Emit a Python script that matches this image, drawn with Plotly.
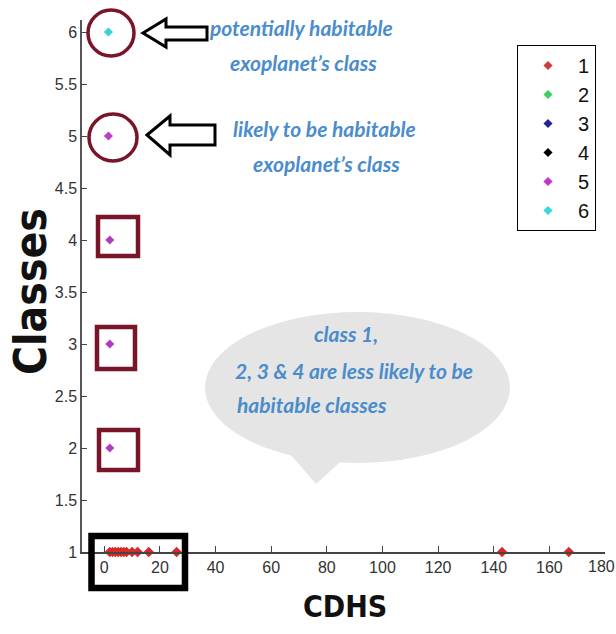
import plotly.graph_objects as go

# ---- data ----
class_names = ["1", "2", "3", "4", "5", "6"]
class_levels = [1, 2, 3, 4, 5, 6]
cdhs_class1 = [2, 3, 4, 5, 6, 7, 8, 10, 12, 16, 26, 143, 167]
cdhs_class2 = [2]
cdhs_class3 = [2]
cdhs_class4 = [2]
cdhs_class5 = [1.5]
cdhs_class6 = [1.5]
legend_colors = ["#d03a3a", "#3ad060", "#22229a", "#000000", "#c633c6", "#33d8d8"]
point_colors = ["#d82828", "#b03cc0", "#b03cc0", "#b03cc0", "#c33cc8", "#33d2d8"]
x_ticks = [0, 20, 40, 60, 80, 100, 120, 140, 160, 180]
y_ticks = [1, 1.5, 2, 2.5, 3, 3.5, 4, 4.5, 5, 5.5, 6]

W, H = 616, 634
L, R, T, B = 82, 11, 20, 82
PW, PH = W - L - R, H - T - B


def px(x):
    return (x - L) / PW


def py(y):
    return (H - B - y) / PH


series = [cdhs_class1, cdhs_class2, cdhs_class3, cdhs_class4, cdhs_class5, cdhs_class6]

fig = go.Figure()
for i, xs in enumerate(series):
    fig.add_trace(go.Scatter(
        x=xs, y=[class_levels[i]] * len(xs), mode="markers",
        marker=dict(symbol="diamond", size=8 if i == 0 else 7, color=point_colors[i]),
        showlegend=False, cliponaxis=False, hoverinfo="x+y"))
for i, name in enumerate(class_names):
    fig.add_trace(go.Scatter(
        x=[None], y=[None], mode="markers", name=name,
        marker=dict(symbol="diamond", size=7, color=legend_colors[i])))

shapes = []
dark_red = "#7a1428"
# circles around class 6 and 5
shapes.append(dict(type="circle", xref="paper", yref="paper",
                   x0=px(88), x1=px(134), y0=py(56), y1=py(10),
                   line=dict(color=dark_red, width=3.5)))
shapes.append(dict(type="circle", xref="paper", yref="paper",
                   x0=px(89), x1=px(137), y0=py(161), y1=py(114),
                   line=dict(color=dark_red, width=3.5)))
# squares around classes 4, 3, 2
for (x0, y0, x1, y1) in [(98, 217, 138, 256), (97, 327, 135, 369), (99, 430, 138, 470)]:
    shapes.append(dict(type="rect", xref="paper", yref="paper",
                       x0=px(x0), x1=px(x1), y0=py(y1), y1=py(y0),
                       line=dict(color=dark_red, width=4.5)))
# black box around class 1 cluster
shapes.append(dict(type="rect", xref="paper", yref="paper",
                   x0=px(91.5), x1=px(185), y0=py(588), y1=py(536),
                   line=dict(color="#000000", width=6.5)))


def poly(pts):
    return "M " + " L ".join(f"{px(a):.5f},{py(b):.5f}" for a, b in pts) + " Z"


shapes.append(dict(type="path", xref="paper", yref="paper",
                   path=poly([(143, 33), (166, 19), (166, 27), (207, 27), (207, 40),
                              (166, 40), (166, 47)]),
                   line=dict(color="#000000", width=3), fillcolor="white"))
shapes.append(dict(type="path", xref="paper", yref="paper",
                   path=poly([(147, 135), (170, 116), (170, 125), (215, 125), (215, 145),
                              (170, 145), (170, 155)]),
                   line=dict(color="#000000", width=3), fillcolor="white"))
# speech bubble
bubble = "#e5e5e5"
shapes.append(dict(type="circle", xref="paper", yref="paper", layer="below",
                   x0=px(205), x1=px(510), y0=py(463), y1=py(312),
                   line=dict(width=0), fillcolor=bubble))
shapes.append(dict(type="path", xref="paper", yref="paper", layer="below",
                   path=poly([(285, 448), (316, 484), (348, 455)]),
                   line=dict(width=0), fillcolor=bubble))

blue = "#4a8ccc"
tfont = dict(family="Lato, Open Sans, sans-serif", size=21, color=blue, weight="bold", style="italic")
annotations = []


def txt(s, x, y, anchor="center"):
    annotations.append(dict(text=s, xref="paper", yref="paper", x=px(x), y=py(y),
                            xanchor=anchor, yanchor="middle", showarrow=False, font=tfont))


txt("potentially habitable", 301, 27)
txt("exoplanet’s class", 303, 62)
txt("likely to be habitable", 324, 128)
txt("exoplanet’s class", 326, 163)
txt("class 1,", 346, 333)
txt("2, 3 &amp; 4 are less likely to be", 233, 370, "left")
txt("habitable classes", 235, 405, "left")

title_font = dict(family="DejaVu Sans Condensed, Liberation Sans, sans-serif",
                  size=44, color="#111111", weight="bold")
annotations.append(dict(text="Classes", xref="paper", yref="paper", x=px(30), y=py(292),
                        xanchor="center", yanchor="middle", textangle=-90,
                        showarrow=False, font=title_font))
annotations.append(dict(text="CDHS", xref="paper", yref="paper", x=px(345), y=py(606),
                        xanchor="center", yanchor="middle",
                        showarrow=False, font=dict(title_font, size=30)))

tick_font = dict(family="Liberation Sans, Arial, sans-serif", size=16, color="#333333")

# last x tick label sits at the page edge: keep it inside the page
x_ticktext = [str(v) for v in x_ticks[:-1]] + [""]
annotations.append(dict(text=str(x_ticks[-1]), xref="paper", yref="paper",
                        x=px(W), y=py(566), xanchor="right", yanchor="middle",
                        borderpad=0, showarrow=False, font=tick_font))

fig.update_layout(
    width=W, height=H,
    margin=dict(l=L, r=R, t=T, b=B, pad=0),
    paper_bgcolor="white", plot_bgcolor="white",
    shapes=shapes, annotations=annotations,
    xaxis=dict(range=[-8, 180], tickvals=x_ticks, ticktext=x_ticktext,
               showgrid=False, zeroline=False, showline=True, linecolor="#444444", linewidth=1.5,
               ticks="inside", ticklen=6, tickcolor="#444444", tickfont=tick_font),
    yaxis=dict(range=[1, 6 + 12 / 104], tickvals=y_ticks, ticktext=[f"{v:g}" for v in y_ticks],
               showgrid=False, zeroline=False, showline=True, linecolor="#555555", linewidth=1.5,
               ticks="inside", ticklen=5, tickcolor="#444444", tickfont=tick_font),
    legend=dict(x=px(517), y=py(45), xanchor="left", yanchor="top",
                bgcolor="white", bordercolor="#000000", borderwidth=1,
                font=dict(family="Liberation Sans, Arial, sans-serif", size=20, color="#111111"),
                itemwidth=50),
)

fig.write_html("out.html", config={"displayModeBar": False},
               post_script="document.body.style.margin='0';document.body.style.overflow='hidden';")
